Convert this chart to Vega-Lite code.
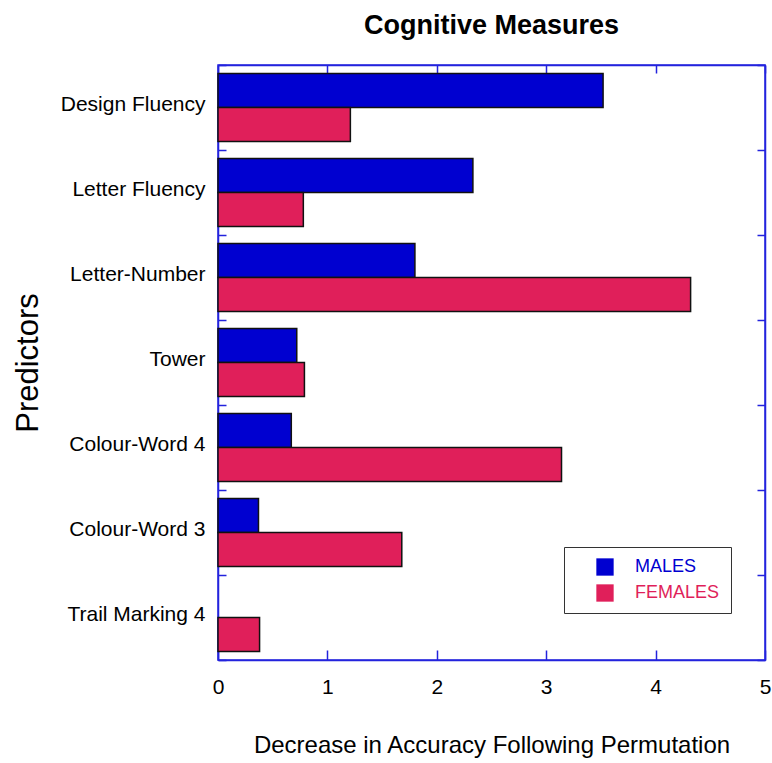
{
  "$schema": "https://vega.github.io/schema/vega-lite/v6.json",
  "width": 547,
  "height": 595,
  "autosize": {"type": "none"},
  "padding": {"left": 218, "top": 65, "right": 7, "bottom": 103},
  "background": "white",
  "title": {
    "text": "Cognitive Measures",
    "font": "Liberation Sans",
    "fontSize": 27,
    "fontWeight": "bold",
    "color": "black",
    "anchor": "middle",
    "offset": 14
  },
  "config": {
    "view": {"stroke": "#2323dd", "strokeWidth": 1.5},
    "font": "Liberation Sans"
  },
  "data": {
    "values": [
      {"predictor": "Design Fluency", "sex": "MALES", "value": 3.52},
      {"predictor": "Design Fluency", "sex": "FEMALES", "value": 1.21},
      {"predictor": "Letter Fluency", "sex": "MALES", "value": 2.33},
      {"predictor": "Letter Fluency", "sex": "FEMALES", "value": 0.78},
      {"predictor": "Letter-Number", "sex": "MALES", "value": 1.8},
      {"predictor": "Letter-Number", "sex": "FEMALES", "value": 4.32},
      {"predictor": "Tower", "sex": "MALES", "value": 0.72},
      {"predictor": "Tower", "sex": "FEMALES", "value": 0.79},
      {"predictor": "Colour-Word 4", "sex": "MALES", "value": 0.67},
      {"predictor": "Colour-Word 4", "sex": "FEMALES", "value": 3.14},
      {"predictor": "Colour-Word 3", "sex": "MALES", "value": 0.37},
      {"predictor": "Colour-Word 3", "sex": "FEMALES", "value": 1.68},
      {"predictor": "Trail Marking 4", "sex": "FEMALES", "value": 0.38}
    ]
  },
  "layer": [
    {
      "mark": {"type": "bar", "stroke": "#111111", "strokeWidth": 1.5},
      "encoding": {
        "y": {
          "field": "predictor",
          "type": "nominal",
          "sort": ["Design Fluency", "Letter Fluency", "Letter-Number", "Tower", "Colour-Word 4", "Colour-Word 3", "Trail Marking 4"],
          "scale": {"paddingInner": 0, "paddingOuter": 0},
          "axis": {
            "title": "Predictors",
            "titleFont": "Liberation Sans",
            "titleFontSize": 31,
            "titleFontWeight": "normal",
            "titleColor": "black",
            "titlePadding": 16,
            "labelFont": "Liberation Sans",
            "labelFontSize": 21,
            "labelColor": "black",
            "labelPadding": 21,
            "labelOffset": -3,
            "tickBand": "extent",
            "tickSize": -8,
            "tickColor": "#2323dd",
            "tickWidth": 1.5,
            "domainColor": "#2323dd",
            "domainWidth": 1.5
          }
        },
        "yOffset": {
          "field": "sex",
          "type": "nominal",
          "sort": ["MALES", "FEMALES"],
          "scale": {"paddingInner": 0, "paddingOuter": 0.25}
        },
        "x": {
          "field": "value",
          "type": "quantitative",
          "scale": {"domain": [0, 5], "nice": false},
          "axis": {
            "title": "Decrease in Accuracy Following Permutation",
            "titleFont": "Liberation Sans",
            "titleFontSize": 24,
            "titleFontWeight": "normal",
            "titleColor": "black",
            "titlePadding": 36,
            "labelFont": "Liberation Sans",
            "labelFontSize": 21,
            "labelColor": "black",
            "labelPadding": 26,
            "labelFlush": false,
            "values": [0, 1, 2, 3, 4, 5],
            "grid": false,
            "tickSize": -10,
            "tickColor": "#2323dd",
            "tickWidth": 1.5,
            "domainColor": "#2323dd",
            "domainWidth": 1.5
          }
        },
        "color": {
          "field": "sex",
          "type": "nominal",
          "scale": {"domain": ["MALES", "FEMALES"], "range": ["#0000d0", "#e01f5a"]},
          "legend": {
            "title": null,
            "orient": "none",
            "legendX": 346,
            "legendY": 482,
            "direction": "vertical",
            "strokeColor": "#333333",
            "fillColor": "white",
            "padding": 11,
            "symbolType": "square",
            "symbolSize": 300,
            "symbolOffset": 21,
            "symbolStrokeWidth": 0,
            "symbolOpacity": 1,
            "labelFont": "Liberation Sans",
            "labelFontSize": 18,
            "labelOffset": 21,
            "labelColor": {"expr": "datum.value === 'MALES' ? '#0000d0' : '#e01f5a'"},
            "rowPadding": 8,
            "offset": 0
          }
        }
      }
    },
    {
      "mark": {"type": "bar", "opacity": 0},
      "encoding": {
        "y": {
          "field": "predictor",
          "type": "nominal",
          "sort": ["Design Fluency", "Letter Fluency", "Letter-Number", "Tower", "Colour-Word 4", "Colour-Word 3", "Trail Marking 4"],
          "scale": {"paddingInner": 0, "paddingOuter": 0},
          "axis": {
            "orient": "right",
            "title": null,
            "labels": false,
            "tickBand": "extent",
            "tickSize": -8,
            "tickColor": "#2323dd",
            "tickWidth": 1.5,
            "domainColor": "#2323dd",
            "domainWidth": 1.5
          }
        },
        "x": {
          "field": "value",
          "type": "quantitative",
          "scale": {"domain": [0, 5], "nice": false},
          "axis": {
            "orient": "top",
            "title": null,
            "labels": false,
            "values": [0, 1, 2, 3, 4, 5],
            "grid": false,
            "tickSize": -8,
            "tickColor": "#2323dd",
            "tickWidth": 1.5,
            "domainColor": "#2323dd",
            "domainWidth": 1.5
          }
        }
      }
    }
  ],
  "resolve": {"scale": {"x": "independent", "y": "independent"}, "axis": {"x": "independent", "y": "independent"}}
}
